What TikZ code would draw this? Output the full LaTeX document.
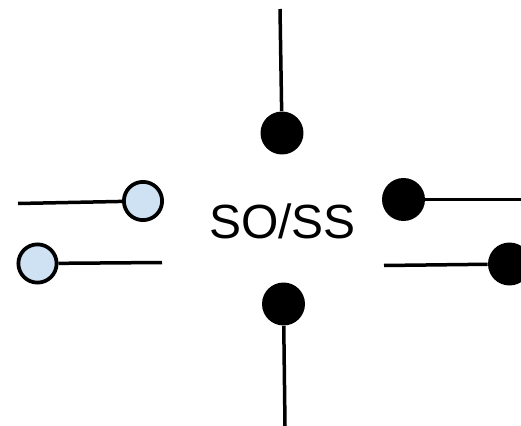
\documentclass[tikz,border=0pt]{standalone}
\usepackage{fontspec}
\setmainfont{Liberation Sans}
\definecolor{palefill}{HTML}{CFE2F3}
\tikzset{
	openpin/.style={circle, draw=black, line width=0.075cm, fill=palefill, inner sep=0pt, minimum size=0.765cm},
	solidpin/.style={circle, fill=black, inner sep=0pt, minimum size=0.86cm},
	wire/.style={line width=0.07cm}
}
\begin{document}
\begin{tikzpicture}[x=0.02cm, y=-0.02cm]
		\useasboundingbox (0,0) rectangle (521,426);
		\node (label) at (282.5,221.5) {\fontsize{27.3pt}{30pt}\selectfont SO/SS};
		\node (top) [solidpin] at (282,133) {};
		\node (bottom) [solidpin] at (283.5,304) {};
		\node (rightup) [solidpin] at (403.5,199.5) {};
		\node (rightdown) [solidpin] at (509.5,264) {};
		\node (leftup) [openpin] at (143,201) {};
		\node (leftdown) [openpin] at (37.5,263.5) {};
		\coordinate (topend) at (280,9);
		\coordinate (bottomend) at (285,426);
		\coordinate (rightupend) at (521,199.5);
		\coordinate (rightdownend) at (384,265.5);
		\coordinate (leftupend) at (18,203.5);
		\coordinate (leftdownend) at (162,262.5);
		\draw [wire] (top) -- (topend);
		\draw [wire] (bottom) -- (bottomend);
		\draw [wire] (rightup) -- (rightupend);
		\draw [wire] (rightdown) -- (rightdownend);
		\draw [wire] (leftup) -- (leftupend);
		\draw [wire] (leftdown) -- (leftdownend);
		\end{tikzpicture}
\end{document}
